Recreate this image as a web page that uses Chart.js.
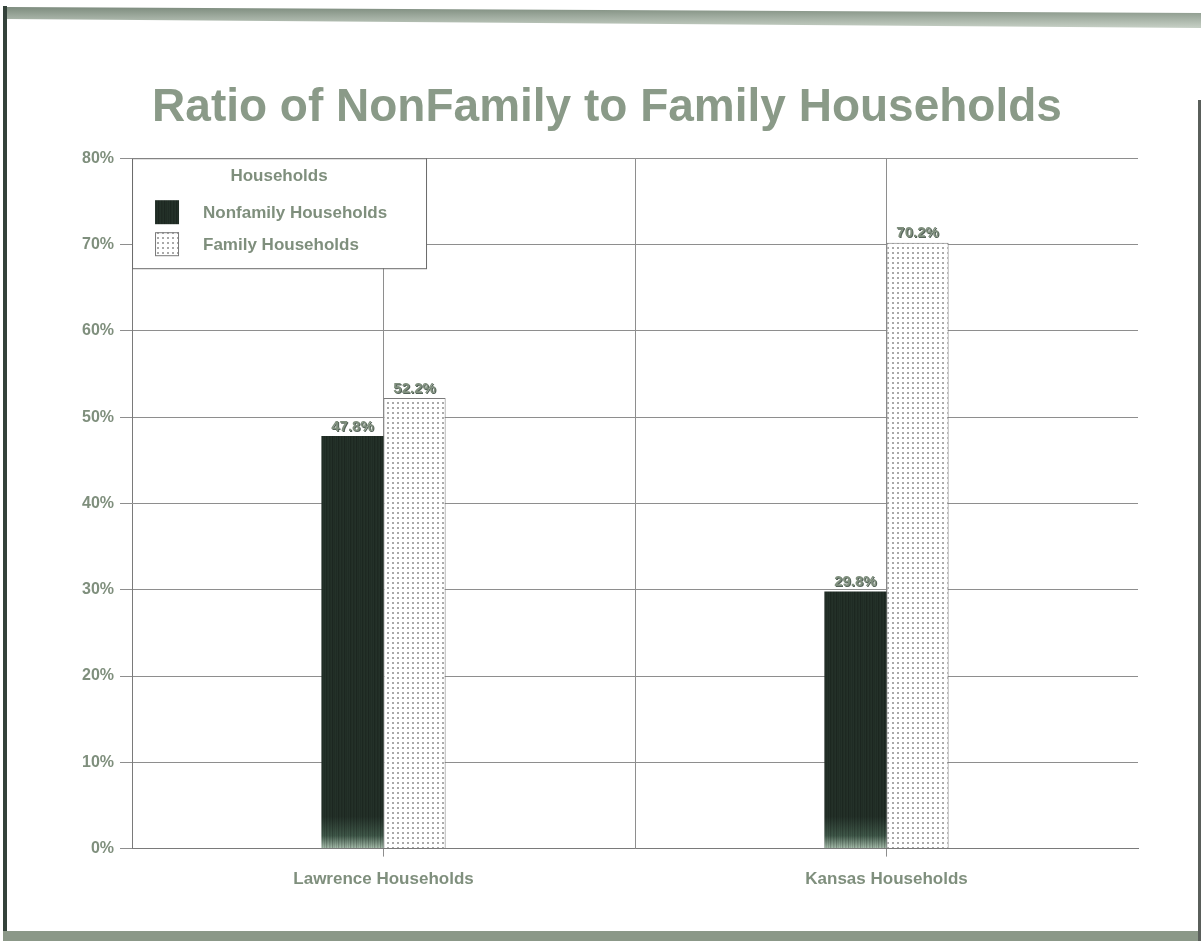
<!DOCTYPE html>
<html>
<head>
<meta charset="utf-8">
<title>Ratio of NonFamily to Family Households</title>
<script src="https://cdn.jsdelivr.net/npm/chart.js@4.4.0/dist/chart.umd.min.js"></script>
<style>
  html, body { margin: 0; padding: 0; background: #fff; }
  #wrap { width: 1201px; height: 941px; }
</style>
</head>
<body>
<div id="wrap"><canvas id="households" width="1201" height="941"></canvas></div>
<script>
// data
const categories = ["Lawrence Households", "Kansas Households"];
const seriesNames = ["Nonfamily Households", "Family Households"];
const nonFamily = [47.8, 29.8];
const family = [52.2, 70.2];
const yMax = 80;
const yStep = 10;

const textColor = "#7f8f7d";
const gridColor = "#8e8e8e";
Chart.defaults.font.family = '"Liberation Sans", Arial, sans-serif';

// dark bars: streaky near-black fill that fades out toward the baseline
let darkCache = null;
function darkFill(chart) {
  const area = chart.chartArea;
  if (!area) return "#25322b";
  if (darkCache && darkCache.bottom === area.bottom) return darkCache.pattern;
  const tile = document.createElement("canvas");
  tile.width = 12;
  tile.height = Math.ceil(area.bottom) + 2;
  const t = tile.getContext("2d");
  const g = t.createLinearGradient(0, area.bottom - 32, 0, area.bottom);
  g.addColorStop(0, "#243129");
  g.addColorStop(0.6, "#40594a");
  g.addColorStop(1, "#a9c0ae");
  t.fillStyle = g;
  t.fillRect(0, 0, tile.width, tile.height);
  const streaks = [0.12, 0, 0.2, 0.05, 0, 0.15, 0.08, 0, 0.22, 0.04, 0.1, 0];
  streaks.forEach((a, i) => {
    t.fillStyle = "rgba(0,0,0," + a + ")";
    t.fillRect(i, 0, 1, tile.height);
  });
  darkCache = { bottom: area.bottom, pattern: chart.ctx.createPattern(tile, "repeat") };
  return darkCache.pattern;
}

// light bars: grey dot screen on white
let dotPattern = null;
function dotFill(chart) {
  if (dotPattern) return dotPattern;
  const tile = document.createElement("canvas");
  tile.width = 5;
  tile.height = 5;
  const t = tile.getContext("2d");
  t.fillStyle = "#ffffff";
  t.fillRect(0, 0, 5, 5);
  t.fillStyle = "#a9a9a9";
  t.fillRect(2, 2, 2, 2);
  dotPattern = chart.ctx.createPattern(tile, "repeat");
  return dotPattern;
}

// page frame around the chart
const framePlugin = {
  id: "frame",
  beforeDraw(chart) {
    const ctx = chart.ctx;
    const w = chart.width, h = chart.height;
    ctx.save();
    ctx.fillStyle = "#ffffff";
    ctx.fillRect(0, 0, w, h);
    const g = ctx.createLinearGradient(0, 7, 0, 27);
    g.addColorStop(0, "#7d8c7e");
    g.addColorStop(1, "#c3cdc2");
    ctx.fillStyle = g;
    ctx.beginPath();
    ctx.moveTo(6, 7);
    ctx.lineTo(w, 13);
    ctx.lineTo(w, 28);
    ctx.lineTo(6, 19);
    ctx.closePath();
    ctx.fill();
    ctx.fillStyle = "#34423a";
    ctx.fillRect(3, 6, 4, h - 6);
    ctx.fillStyle = "#8b9888";
    ctx.fillRect(3, h - 10, w - 3, 10);
    ctx.fillStyle = "#5a5f5b";
    ctx.fillRect(w - 3, 100, 3, h - 100);
    ctx.restore();
  }
};

// extra vertical lines between the categories
const dividerPlugin = {
  id: "dividers",
  beforeDatasetsDraw(chart) {
    const x = chart.scales.x;
    const area = chart.chartArea;
    const ctx = chart.ctx;
    ctx.save();
    ctx.strokeStyle = gridColor;
    ctx.lineWidth = 1;
    for (let i = 1; i < categories.length; i++) {
      const px = Math.round((x.getPixelForTick(i - 1) + x.getPixelForTick(i)) / 2) + 0.5;
      ctx.beginPath();
      ctx.moveTo(px, area.top);
      ctx.lineTo(px, area.bottom);
      ctx.stroke();
    }
    ctx.restore();
  }
};

// boxed legend in the top left corner of the plot
const legendBoxPlugin = {
  id: "legendBox",
  beforeDatasetsDraw(chart, args, opts) {
    const ctx = chart.ctx;
    const left = chart.chartArea.left;
    const top = chart.chartArea.top;
    ctx.save();
    ctx.fillStyle = "#ffffff";
    ctx.fillRect(left, top, opts.width, opts.height);
    ctx.strokeStyle = "#6a6a6a";
    ctx.lineWidth = 1;
    ctx.strokeRect(left + 0.5, top + 0.5, opts.width, opts.height);

    ctx.fillStyle = textColor;
    ctx.font = "bold 17px " + Chart.defaults.font.family;
    ctx.textAlign = "center";
    ctx.textBaseline = "middle";
    ctx.fillText(opts.title, left + opts.width / 2, top + 18);

    ctx.textAlign = "left";
    chart.data.datasets.forEach((ds, i) => {
      const sx = left + 23, sy = top + 42 + i * 32;
      ctx.fillStyle = typeof ds.backgroundColor === "function" ? ds.backgroundColor({ chart }) : ds.backgroundColor;
      ctx.fillRect(sx, sy, 24, 24);
      if (ds.borderWidth) {
        ctx.strokeStyle = ds.borderColor;
        ctx.strokeRect(sx + 0.5, sy + 0.5, 23, 23);
      }
      ctx.fillStyle = textColor;
      ctx.fillText(ds.label, left + 71, sy + 13);
    });
    ctx.restore();
  }
};

// percentage labels on top of every bar
const valueLabelPlugin = {
  id: "valueLabels",
  afterDatasetsDraw(chart) {
    const ctx = chart.ctx;
    ctx.save();
    ctx.font = "bold 15px " + Chart.defaults.font.family;
    ctx.textAlign = "center";
    ctx.textBaseline = "bottom";
    chart.data.datasets.forEach((ds, i) => {
      chart.getDatasetMeta(i).data.forEach((bar, j) => {
        const txt = ds.data[j].toFixed(1) + "%";
        ctx.fillStyle = "#56645a";
        ctx.fillText(txt, bar.x + 1, bar.y - 1);
        ctx.fillStyle = textColor;
        ctx.fillText(txt, bar.x, bar.y - 2);
      });
    });
    ctx.restore();
  }
};

new Chart(document.getElementById("households"), {
  type: "bar",
  data: {
    labels: categories,
    datasets: [
      {
        label: seriesNames[0],
        data: nonFamily,
        backgroundColor: (c) => darkFill(c.chart),
        borderWidth: 0
      },
      {
        label: seriesNames[1],
        data: family,
        backgroundColor: (c) => dotFill(c.chart),
        borderColor: "#7a7a7a",
        borderWidth: 1
      }
    ]
  },
  options: {
    responsive: false,
    animation: false,
    layout: { padding: { top: 20, left: 76, right: 63, bottom: 38 } },
    datasets: {
      bar: { categoryPercentage: 0.247, barPercentage: 1 }
    },
    scales: {
      x: {
        grid: { offset: false, color: gridColor, tickLength: 8 },
        border: { color: "#7a7a7a" },
        ticks: {
          color: textColor,
          padding: 13,
          font: { size: 17, weight: "bold" }
        }
      },
      y: {
        min: 0,
        max: yMax,
        grid: { color: gridColor, tickLength: 12 },
        border: { color: "#7a7a7a" },
        ticks: {
          stepSize: yStep,
          padding: 6,
          color: textColor,
          font: { size: 16, weight: "bold" },
          callback: (v) => v + "%"
        }
      }
    },
    plugins: {
      title: {
        display: true,
        text: "Ratio of NonFamily to Family Households",
        color: "#8a9a88",
        font: { size: 46, weight: "bold" },
        padding: { top: 61, bottom: 22 }
      },
      legend: { display: false },
      tooltip: { enabled: false },
      legendBox: { title: "Households", width: 294, height: 110 }
    }
  },
  plugins: [framePlugin, dividerPlugin, legendBoxPlugin, valueLabelPlugin]
});
</script>
</body>
</html>
